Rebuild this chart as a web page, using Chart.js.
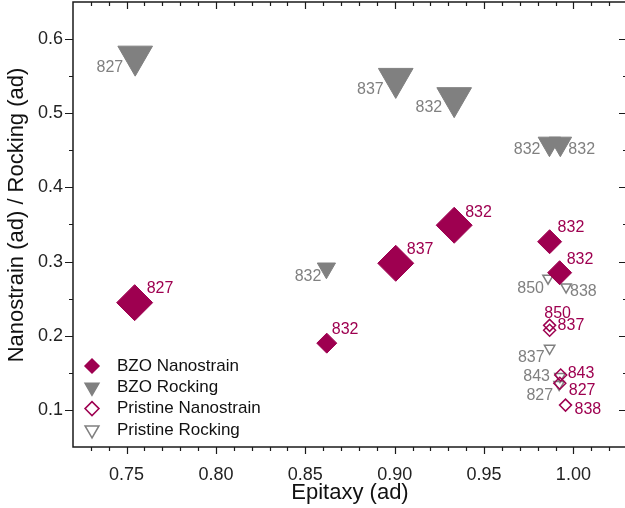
<!DOCTYPE html>
<html>
<head>
<meta charset="utf-8">
<script src="https://cdn.jsdelivr.net/npm/chart.js@4.4.1/dist/chart.umd.min.js"></script>
<style>
  html, body { margin: 0; padding: 0; background: #fff; overflow: hidden; }
  canvas { display: block; }
</style>
</head>
<body>
<canvas id="myChart" width="640" height="508"></canvas>
<script>
// BZO nanostrain (filled diamonds)
const bzoStrainX = [0.7545, 0.862, 0.9006, 0.9333, 0.9867, 0.9923];
const bzoStrainY = [0.2446, 0.190, 0.2977, 0.349, 0.3268, 0.285];
const bzoStrainIds = ["827", "832", "837", "832", "832", "832"];

// BZO rocking (filled down triangles)
const bzoRockX = [0.7548, 0.9006, 0.9333, 0.8618, 0.9866, 0.9927];
const bzoRockY = [0.577, 0.547, 0.521, 0.291, 0.459, 0.459];
const bzoRockIds = ["827", "837", "832", "832", "832", "832"];

// pristine nanostrain (open diamonds)
const priStrainX = [0.9867, 0.9867, 0.9929, 0.9924, 0.9956];
const priStrainY = [0.214, 0.2074, 0.147, 0.136, 0.1065];
const priStrainIds = ["850", "837", "843", "827", "838"];

// pristine rocking (open down triangles)
const priRockX = [0.9858, 0.9959, 0.9867, 0.9925, 0.992];
const priRockY = [0.2776, 0.2658, 0.183, 0.1449, 0.1344];
const priRockIds = ["850", "838", "837", "843", "827"];

// axis tick labels
const xTicks = [0.75, 0.80, 0.85, 0.90, 0.95, 1.00];
const yTicks = [0.1, 0.2, 0.3, 0.4, 0.5, 0.6];

// marker sizes and label placement [align, dx, dy]
const bzoStrainSize = [18, 10, 18, 18, 12, 12];
const bzoRockSize = [20, 20, 20, 10.5, 13, 13];
const bzoStrainLabelPos = [["left", 12, -14], ["left", 5, -14], ["left", 11, -14], ["left", 11, -13], ["left", 8, -14], ["left", 7, -13]];
const bzoRockLabelPos = [["right", -12, 11], ["right", -12, 11], ["right", -12, 10], ["right", -5, 8], ["right", -9, 6], ["left", 8, 6]];
const priStrainLabelPos = [["center", 8, -12], ["left", 8, -5], ["left", 7, -1], ["left", 9, 7], ["left", 9, 4]];
const priRockLabelPos = [["right", -4, 10], ["left", 4, 5], ["right", -5, 9], ["right", -10, 0], ["right", -6, 11]];

const WINE = "#9e0050";
const GREY = "#808080";
const FONT = "'Liberation Sans', Arial, sans-serif";

const toPoints = (xs, ys) => xs.map((x, i) => ({ x: x, y: ys[i] }));

const datasets = [
  {
    label: "BZO Nanostrain",
    data: toPoints(bzoStrainX, bzoStrainY),
    pointStyle: "rectRot",
    pointRadius: bzoStrainSize,
    backgroundColor: WINE,
    borderColor: WINE,
    borderWidth: 1,
    ids: bzoStrainIds,
    labelPos: bzoStrainLabelPos,
    labelColor: WINE,
  },
  {
    label: "BZO Rocking",
    data: toPoints(bzoRockX, bzoRockY),
    pointStyle: "triangle",
    rotation: 180,
    pointRadius: bzoRockSize,
    backgroundColor: GREY,
    borderColor: GREY,
    borderWidth: 1,
    ids: bzoRockIds,
    labelPos: bzoRockLabelPos,
    labelColor: GREY,
  },
  {
    label: "Pristine Nanostrain",
    data: toPoints(priStrainX, priStrainY),
    pointStyle: "rectRot",
    pointRadius: 6,
    backgroundColor: "rgba(255,255,255,0)",
    borderColor: WINE,
    borderWidth: 1.5,
    ids: priStrainIds,
    labelPos: priStrainLabelPos,
    labelColor: WINE,
  },
  {
    label: "Pristine Rocking",
    data: toPoints(priRockX, priRockY),
    pointStyle: "triangle",
    rotation: 180,
    pointRadius: 6,
    backgroundColor: "rgba(255,255,255,0)",
    borderColor: GREY,
    borderWidth: 1.5,
    ids: priRockIds,
    labelPos: priRockLabelPos,
    labelColor: GREY,
  },
];

// sample numbers beside each marker
const pointLabels = {
  id: "pointLabels",
  afterDatasetsDraw(chart) {
    const ctx = chart.ctx;
    ctx.save();
    ctx.font = "16px " + FONT;
    ctx.textBaseline = "middle";
    chart.data.datasets.forEach((ds, i) => {
      chart.getDatasetMeta(i).data.forEach((pt, j) => {
        const [align, dx, dy] = ds.labelPos[j];
        ctx.fillStyle = ds.labelColor;
        ctx.textAlign = align;
        ctx.fillText(ds.ids[j], pt.x + dx, pt.y + dy);
      });
    });
    ctx.restore();
  },
};

// box with in/out ticks like Origin, plus the rotated y title
const frame = {
  id: "frame",
  beforeDatasetsDraw(chart) {
    const { ctx, chartArea: a, scales } = chart;
    const x = scales.x, y = scales.y;
    ctx.save();
    ctx.strokeStyle = "#1a1a1a";
    ctx.lineWidth = 1.5;
    ctx.strokeRect(a.left, a.top, a.right - a.left, a.bottom - a.top);
    ctx.lineWidth = 1.2;
    ctx.beginPath();
    for (let k = 73; k <= 102; k++) {
      const px = Math.round(x.getPixelForValue(k / 100)) + 0.5;
      const len = k % 5 === 0 ? 7 : 4;
      ctx.moveTo(px, a.bottom); ctx.lineTo(px, a.bottom + len);
      ctx.moveTo(px, a.top); ctx.lineTo(px, a.top + len);
    }
    for (let k = 2; k <= 12; k++) {
      const py = Math.round(y.getPixelForValue(k * 0.05)) + 0.5;
      const len = k % 2 === 0 ? 8 : 4;
      ctx.moveTo(a.left, py); ctx.lineTo(a.left - len, py);
      ctx.moveTo(a.right, py); ctx.lineTo(a.right - len, py);
    }
    ctx.stroke();
    ctx.translate(17, 215);
    ctx.rotate(-Math.PI / 2);
    ctx.font = "22px " + FONT;
    ctx.fillStyle = "#111";
    ctx.textAlign = "center";
    ctx.textBaseline = "middle";
    ctx.fillText("Nanostrain (ad) / Rocking (ad)", 0, 0);
    ctx.restore();
  },
};

function drawMarker(ctx, style, cx, cy, r, fill, stroke) {
  ctx.beginPath();
  if (style === "rectRot") {
    ctx.moveTo(cx - r, cy); ctx.lineTo(cx, cy - r); ctx.lineTo(cx + r, cy); ctx.lineTo(cx, cy + r);
  } else {
    const s = Math.sin(Math.PI / 3) * r;
    ctx.moveTo(cx, cy + r); ctx.lineTo(cx - s, cy - r / 2); ctx.lineTo(cx + s, cy - r / 2);
  }
  ctx.closePath();
  if (fill) { ctx.fillStyle = fill; ctx.fill(); }
  ctx.strokeStyle = stroke;
  ctx.lineWidth = 1.5;
  ctx.stroke();
}

// legend in the lower left corner of the plot
const cornerLegend = {
  id: "cornerLegend",
  afterDraw(chart) {
    const ctx = chart.ctx;
    ctx.save();
    ctx.font = "17px " + FONT;
    ctx.textBaseline = "middle";
    ctx.textAlign = "left";
    chart.data.datasets.forEach((ds, i) => {
      const rowY = 366 + i * 21.3;
      const filled = ds.borderWidth === 1;
      const r = ds.pointStyle === "triangle" ? 8 : 7;
      drawMarker(ctx, ds.pointStyle, 92, rowY, r, filled ? ds.backgroundColor : null, ds.borderColor);
      ctx.fillStyle = "#111";
      ctx.fillText(ds.label, 117, rowY);
    });
    ctx.restore();
  },
};

new Chart("myChart", {
  type: "scatter",
  data: { datasets: datasets },
  options: {
    responsive: false,
    animation: false,
    devicePixelRatio: 1,
    layout: { autoPadding: false, padding: { top: 2, right: 13, left: 0, bottom: 0 } },
    plugins: {
      legend: { display: false },
      tooltip: { enabled: false },
    },
    scales: {
      x: {
        type: "linear",
        min: 0.72,
        max: 1.03,
        afterFit: (s) => { s.height = 61; s.paddingLeft = 0; s.paddingRight = 0; },
        afterBuildTicks: (s) => { s.ticks = xTicks.map((v) => ({ value: v })); },
        grid: { display: false, drawTicks: false },
        border: { display: false },
        ticks: {
          maxRotation: 0,
          autoSkip: false,
          padding: 17,
          color: "#222",
          font: { family: FONT, size: 18 },
          callback: (v) => v.toFixed(2),
        },
        title: {
          display: true,
          text: "Epitaxy (ad)",
          color: "#111",
          font: { family: FONT, size: 22 },
          padding: { top: 0, bottom: 2 },
        },
      },
      y: {
        type: "linear",
        min: 0.05,
        max: 0.65,
        afterFit: (s) => { s.width = 73; s.paddingTop = 0; s.paddingBottom = 0; },
        afterBuildTicks: (s) => { s.ticks = yTicks.map((v) => ({ value: v })); },
        grid: { display: false, drawTicks: false },
        border: { display: false },
        ticks: {
          padding: 10,
          color: "#222",
          font: { family: FONT, size: 18 },
          callback: (v) => v.toFixed(1),
        },
      },
    },
  },
  plugins: [frame, pointLabels, cornerLegend],
});
</script>
</body>
</html>
